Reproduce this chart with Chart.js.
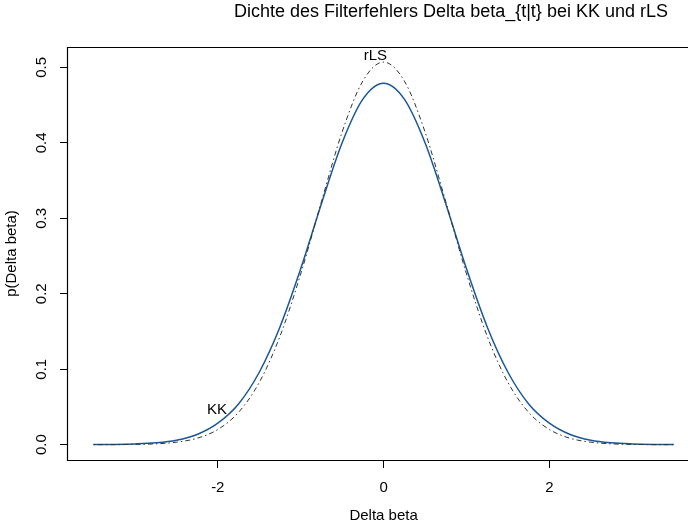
<!DOCTYPE html>
<html>
<head>
<meta charset="utf-8">
<script src="https://cdn.jsdelivr.net/npm/chart.js@4.4.1/dist/chart.umd.min.js"></script>
<style>
  html, body { margin: 0; padding: 0; background: #fff; }
  #wrap { width: 688px; height: 532px; }
</style>
</head>
<body>
<div id="wrap"><canvas id="dichte" width="688" height="532"></canvas></div>
<script>
// values
const deltaBeta = [-3.5, -3.25, -3, -2.75, -2.5, -2.25, -2, -1.75, -1.5, -1.25, -1, -0.75, -0.5, -0.25,
  0, 0.25, 0.5, 0.75, 1, 1.25, 1.5, 1.75, 2, 2.25, 2.5, 2.75, 3, 3.25, 3.5];
const densKK = [0.0002, 0.0004, 0.0010, 0.0024, 0.0058, 0.0135, 0.0285, 0.0540, 0.0960, 0.1560, 0.2330, 0.3194, 0.4001, 0.4579,
  0.479, 0.4579, 0.4001, 0.3194, 0.2330, 0.1560, 0.0960, 0.0540, 0.0285, 0.0135, 0.0058, 0.0024, 0.0010, 0.0004, 0.0002];
const densRLS = [0.0000, 0.0001, 0.0004, 0.0011, 0.0033, 0.0085, 0.0201, 0.0428, 0.0825, 0.1436, 0.2262, 0.3220, 0.4144, 0.4820,
  0.507, 0.4820, 0.4144, 0.3220, 0.2262, 0.1436, 0.0825, 0.0428, 0.0201, 0.0085, 0.0033, 0.0011, 0.0004, 0.0001, 0.0000];
const xTicks = [-2, 0, 2];
const xTickLabels = ['-2', '0', '2'];
const yTicks = [0, 0.1, 0.2, 0.3, 0.4, 0.5];
const yTickLabels = ['0.0', '0.1', '0.2', '0.3', '0.4', '0.5'];
const curveLabels = ['KK', 'rLS'];

const titleText = 'Dichte des Filterfehlers Delta beta_{t|t} bei KK und rLS';
const FONT = '"Liberation Sans", Arial, Helvetica, sans-serif';

function pts(ys) {
  return deltaBeta.map((x, i) => ({x: x, y: ys[i]}));
}

// frame + texts, R style
const rPlot = {
  id: 'rPlot',
  afterDraw(chart) {
    const ctx = chart.ctx;
    const a = chart.chartArea;
    const xs = chart.scales.x, ys = chart.scales.y;
    ctx.save();
    ctx.strokeStyle = '#000';
    ctx.lineWidth = 1.2;
    ctx.beginPath();
    ctx.moveTo(a.right + 5, Math.round(a.top) + 0.5);
    ctx.lineTo(Math.round(a.left) + 0.5, Math.round(a.top) + 0.5);
    ctx.lineTo(Math.round(a.left) + 0.5, Math.round(a.bottom) + 0.5);
    ctx.lineTo(a.right + 5, Math.round(a.bottom) + 0.5);
    ctx.stroke();

    ctx.fillStyle = '#000';
    ctx.font = '15px ' + FONT;
    ctx.textAlign = 'center';
    ctx.textBaseline = 'middle';
    xTicks.forEach((v, i) => {
      ctx.fillText(xTickLabels[i], xs.getPixelForValue(v), 488);
    });
    ctx.fillText('Delta beta', xs.getPixelForValue(0), 516);

    yTicks.forEach((v, i) => {
      ctx.save();
      ctx.translate(42, ys.getPixelForValue(v));
      ctx.rotate(-Math.PI / 2);
      ctx.fillText(yTickLabels[i], 0, 0);
      ctx.restore();
    });
    ctx.save();
    ctx.translate(12, (a.top + a.bottom) / 2);
    ctx.rotate(-Math.PI / 2);
    ctx.fillText('p(Delta beta)', 0, 0);
    ctx.restore();

    // curve labels
    ctx.fillText(curveLabels[0], xs.getPixelForValue(-2.01), ys.getPixelForValue(0.046));
    ctx.fillText(curveLabels[1], xs.getPixelForValue(-0.1), ys.getPixelForValue(0.515));

    ctx.font = '18px ' + FONT;
    ctx.fillText(titleText, 451, 12);
    ctx.restore();
  }
};

new Chart(document.getElementById('dichte'), {
  type: 'line',
  data: {
    datasets: [
      {
        label: curveLabels[1],
        data: pts(densRLS),
        borderColor: '#333',
        borderWidth: 1,
        borderDash: [1.5, 3, 5, 3],
        pointRadius: 0,
        cubicInterpolationMode: 'monotone',
        fill: false
      },
      {
        label: curveLabels[0],
        data: pts(densKK),
        borderColor: '#1a5796',
        borderWidth: 1.5,
        pointRadius: 0,
        cubicInterpolationMode: 'monotone',
        fill: false
      }
    ]
  },
  options: {
    responsive: false,
    animation: false,
    devicePixelRatio: 1,
    layout: {padding: {top: 47, left: 0, right: 0, bottom: 0}},
    plugins: {legend: {display: false}, title: {display: false}, tooltip: {enabled: false}},
    scales: {
      x: {
        type: 'linear',
        min: -3.819,
        max: 3.672,
        afterBuildTicks: s => { s.ticks = xTicks.map(v => ({value: v})); },
        afterFit: s => { s.height = 72; },
        grid: {drawOnChartArea: false, drawTicks: true, tickLength: 8, color: '#000', lineWidth: 1},
        border: {display: false},
        ticks: {display: false}
      },
      y: {
        type: 'linear',
        min: -0.0203,
        max: 0.527,
        afterBuildTicks: s => { s.ticks = yTicks.map(v => ({value: v})); },
        afterFit: s => { s.width = 67; },
        grid: {drawOnChartArea: false, drawTicks: true, tickLength: 7, color: '#000', lineWidth: 1},
        border: {display: false},
        ticks: {display: false}
      }
    }
  },
  plugins: [rPlot]
});
</script>
</body>
</html>
